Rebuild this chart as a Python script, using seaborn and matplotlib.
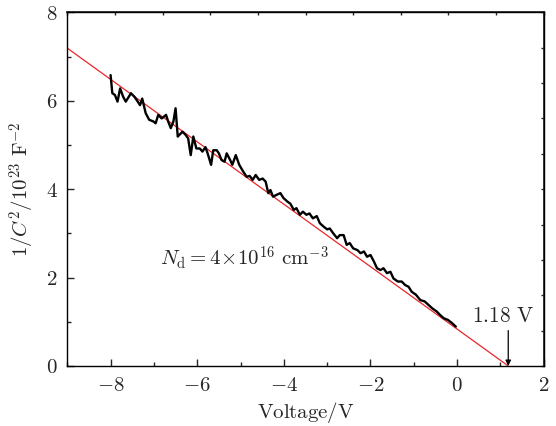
import numpy as np
import pandas as pd
import seaborn as sns
import matplotlib.pyplot as plt
from matplotlib.ticker import FuncFormatter

# 读取的数据 (从图中估计)
voltage = [-8.00, -7.96, -7.90, -7.84, -7.78, -7.71, -7.65, -7.58, -7.53, -7.45,
           -7.40, -7.32, -7.27, -7.19, -7.11, -7.01, -6.96, -6.90, -6.82, -6.72,
           -6.67, -6.61, -6.55, -6.50, -6.45, -6.34, -6.27, -6.21, -6.15, -6.09,
           -6.02, -5.94, -5.88, -5.81, -5.76, -5.68, -5.63, -5.55, -5.50, -5.44,
           -5.37, -5.32, -5.24, -5.19, -5.11, -5.03, -4.94, -4.86, -4.79, -4.72,
           -4.65, -4.57, -4.49, -4.42, -4.36, -4.31, -4.25, -4.17, -4.08, -4.01,
           -3.92, -3.85, -3.77, -3.71, -3.63, -3.56, -3.48, -3.41, -3.33, -3.24,
           -3.17, -3.08, -3.00, -2.94, -2.86, -2.77, -2.71, -2.62, -2.55, -2.48,
           -2.40, -2.30, -2.23, -2.15, -2.08, -2.00, -1.92, -1.85, -1.77, -1.70,
           -1.62, -1.54, -1.47, -1.37, -1.28, -1.20, -1.12, -1.05, -0.95, -0.85,
           -0.75, -0.66, -0.57, -0.47, -0.39, -0.31, -0.21, -0.12, -0.03]
inv_c2 = [6.58, 6.17, 6.13, 5.98, 6.28, 6.09, 5.98, 6.09, 6.17, 6.09,
          6.02, 5.90, 6.05, 5.72, 5.57, 5.53, 5.49, 5.68, 5.60, 5.68,
          5.53, 5.38, 5.53, 5.83, 5.19, 5.30, 5.23, 5.15, 4.77, 5.19,
          4.92, 4.92, 4.85, 4.95, 4.81, 4.55, 4.88, 4.88, 4.81, 4.66,
          4.62, 4.81, 4.66, 4.55, 4.77, 4.55, 4.40, 4.28, 4.30, 4.21,
          4.32, 4.21, 4.24, 4.17, 3.91, 3.98, 3.83, 3.87, 3.91, 3.80,
          3.72, 3.67, 3.53, 3.57, 3.42, 3.49, 3.42, 3.45, 3.34, 3.39,
          3.23, 3.15, 3.09, 3.11, 3.00, 2.89, 2.96, 2.96, 2.74, 2.78,
          2.66, 2.62, 2.55, 2.59, 2.47, 2.51, 2.36, 2.21, 2.17, 2.21,
          2.10, 2.13, 1.98, 1.91, 1.91, 1.83, 1.79, 1.68, 1.61, 1.49,
          1.46, 1.38, 1.30, 1.23, 1.15, 1.08, 1.04, 0.97, 0.89]

# 线性拟合直线
fit_x = [-9.0, 1.18]
fit_y = [7.19, 0.0]

df = pd.DataFrame({"V": voltage, "y": inv_c2})
fit = pd.DataFrame({"V": fit_x, "y": fit_y})

sns.set_theme(style="ticks")
plt.rcParams['font.family'] = ['DejaVu Serif']
plt.rcParams['mathtext.fontset'] = 'cm'

fig, ax = plt.subplots(figsize=(5.56, 4.26), dpi=100)
fig.subplots_adjust(left=0.121, right=0.978, bottom=0.141, top=0.971)

sns.lineplot(x="V", y="y", data=fit, color="#e8262b", lw=0.9, ax=ax)
sns.lineplot(x="V", y="y", data=df, color="black", lw=1.7, ax=ax)

ax.set_xlim(-9, 2)
ax.set_ylim(0, 8)
ax.set_xticks([-8, -6, -4, -2, 0, 2])
ax.set_yticks([0, 2, 4, 6, 8])
ax.set_xticks(np.arange(-9, 2, 1), minor=True)
ax.set_yticks(np.arange(1, 8, 2), minor=True)
fmt = FuncFormatter(lambda v, p: rf"${v:g}$")
ax.xaxis.set_major_formatter(fmt)
ax.yaxis.set_major_formatter(fmt)
ax.tick_params(which="major", direction="in", length=5, width=1, labelsize=15, pad=7)
ax.tick_params(which="minor", direction="in", length=3, width=1)
for s in ax.spines.values():
    s.set_linewidth(1.0)
    s.set_color("black")

# 上、右边框的小刻度
top = ax.secondary_xaxis("top")
top.set_xticks(np.linspace(-9, 2, 11))
top.set_xticklabels([])
top.tick_params(direction="in", length=2.5, width=1)
right = ax.secondary_yaxis("right")
right.set_yticks(np.linspace(0, 8, 11))
right.set_yticklabels([])
right.tick_params(direction="in", length=2.5, width=1)

ax.set_xlabel(r"$\mathrm{Voltage/V}$", fontsize=15, labelpad=4)
ax.set_ylabel(r"$1/C^2/10^{23}\ \mathrm{F}^{-2}$", fontsize=15, labelpad=6)

ax.text(-6.86, 2.44, r"$N_\mathrm{d}=4\!\times\!10^{16}\ \mathrm{cm}^{-3}$",
        fontsize=15, ha="left", va="center")
ax.annotate(r"$1.18\ \mathrm{V}$", xy=(1.18, 0.0), xytext=(1.06, 1.12),
            fontsize=15.5, ha="center", va="center")
ax.annotate("", xy=(1.18, 0.0), xytext=(1.18, 0.8),
            arrowprops=dict(arrowstyle="-|>", color="black", lw=0.9,
                            mutation_scale=8, shrinkA=0, shrinkB=0))

plt.savefig("out.png", dpi=100)
